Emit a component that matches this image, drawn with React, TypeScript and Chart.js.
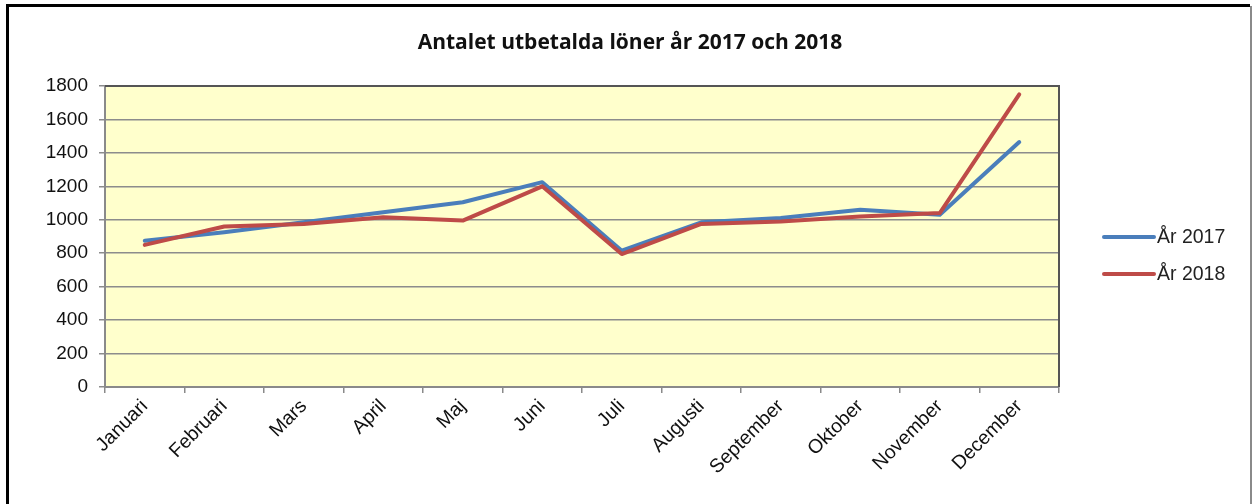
import React, { useEffect, useRef } from "react";
import { Chart, registerables } from "chart.js";

Chart.register(...registerables);

const titleText = "Antalet utbetalda löner år 2017 och 2018";
const months = [
  "Januari", "Februari", "Mars", "April", "Maj", "Juni",
  "Juli", "Augusti", "September", "Oktober", "November", "December",
];
const seriesLabels = ["År 2017", "År 2018"];
const values2017 = [875, 925, 985, 1045, 1105, 1225, 815, 985, 1010, 1060, 1030, 1465];
const values2018 = [850, 960, 975, 1015, 995, 1200, 795, 975, 990, 1020, 1040, 1750];
const seriesColors = ["#4A7EBB", "#BE4B48"];
const yMin = 0;
const yMax = 1800;
const yStep = 200;

const decorPlugin = {
  id: "decor",
  beforeDraw(chart: any) {
    const { ctx, chartArea: a, width, height } = chart;
    ctx.save();
    ctx.fillStyle = "#ffffff";
    ctx.fillRect(0, 0, width, height);
    ctx.fillStyle = "#FFFFCC";
    ctx.fillRect(a.left, a.top, a.right - a.left, a.bottom - a.top);
    ctx.restore();
  },
  afterDraw(chart: any) {
    const { ctx, chartArea: a } = chart;
    ctx.save();
    // outer frame
    ctx.fillStyle = "#000000";
    ctx.fillRect(6, 4, 1244, 3);
    ctx.fillRect(6, 4, 3, 500);
    ctx.fillStyle = "#8a8a8a";
    ctx.fillRect(1250, 6, 2, 498);
    // plot border top/right
    ctx.strokeStyle = "#555555";
    ctx.lineWidth = 2;
    ctx.beginPath();
    ctx.moveTo(a.left, a.top);
    ctx.lineTo(a.right, a.top);
    ctx.lineTo(a.right, a.bottom);
    ctx.stroke();
    // title
    ctx.fillStyle = "#111111";
    ctx.font = "bold 21px 'Open Sans'";
    ctx.textAlign = "center";
    ctx.textBaseline = "alphabetic";
    ctx.fillText(titleText, 630, 49);
    // legend
    const ys = [237, 274];
    chart.data.datasets.forEach((ds: any, i: number) => {
      const y = ys[i];
      ctx.strokeStyle = ds.borderColor;
      ctx.lineWidth = 4;
      ctx.lineCap = "round";
      ctx.beginPath();
      ctx.moveTo(1104, y);
      ctx.lineTo(1154, y);
      ctx.stroke();
      ctx.fillStyle = "#222222";
      ctx.font = "19.5px 'Liberation Sans'";
      ctx.textAlign = "left";
      ctx.textBaseline = "middle";
      ctx.fillText(ds.label, 1157, y + 1);
    });
    ctx.restore();
  },
};

export default function App() {
  const ref = useRef<HTMLCanvasElement | null>(null);
  useEffect(() => {
    if (!ref.current) return;
    const chart = new Chart(ref.current, {
      type: "line",
      data: {
        labels: months,
        datasets: [
          {
            label: seriesLabels[0],
            data: values2017,
            borderColor: seriesColors[0],
            backgroundColor: seriesColors[0],
            borderWidth: 4,
            pointRadius: 0,
            tension: 0,
            borderJoinStyle: "round",
            borderCapStyle: "round",
            order: 1,
          },
          {
            label: seriesLabels[1],
            data: values2018,
            borderColor: seriesColors[1],
            backgroundColor: seriesColors[1],
            borderWidth: 4,
            pointRadius: 0,
            tension: 0,
            borderJoinStyle: "round",
            borderCapStyle: "round",
            order: 0,
          },
        ],
      },
      options: {
        responsive: false,
        animation: false,
        devicePixelRatio: 1,
        layout: { padding: { top: 86, right: 193, bottom: 0, left: 0 } },
        plugins: {
          legend: { display: false },
          title: { display: false },
          tooltip: { enabled: false },
        },
        scales: {
          x: {
            type: "category",
            offset: true,
            afterFit: (s: any) => { s.height = 117; },
            grid: {
              offset: true,
              drawOnChartArea: false,
              drawTicks: true,
              tickLength: 6,
              color: "#8a8a8a",
              lineWidth: 1.5,
            },
            border: { display: true, color: "#8a8a8a", width: 2 },
            ticks: {
              autoSkip: false,
              minRotation: 45,
              maxRotation: 45,
              padding: 2,
              color: "#111111",
              font: { family: "'Liberation Sans'", size: 19.5 },
            },
          },
          y: {
            min: yMin,
            max: yMax,
            afterFit: (s: any) => { s.width = 105; },
            grid: {
              color: "#8c8c8c",
              lineWidth: 1.5,
              tickLength: 6,
              drawTicks: true,
            },
            border: { display: true, color: "#8a8a8a", width: 2 },
            ticks: {
              stepSize: yStep,
              padding: 11,
              color: "#111111",
              font: { family: "'Liberation Sans'", size: 19 },
              callback: (v: any) => String(v),
            },
          },
        },
      },
      plugins: [decorPlugin],
    });
    return () => chart.destroy();
  }, []);
  return (
    <canvas
      ref={ref}
      width={1252}
      height={504}
      style={{ position: "fixed", left: 0, top: 0, width: 1252, height: 504, display: "block" }}
    />
  );
}
